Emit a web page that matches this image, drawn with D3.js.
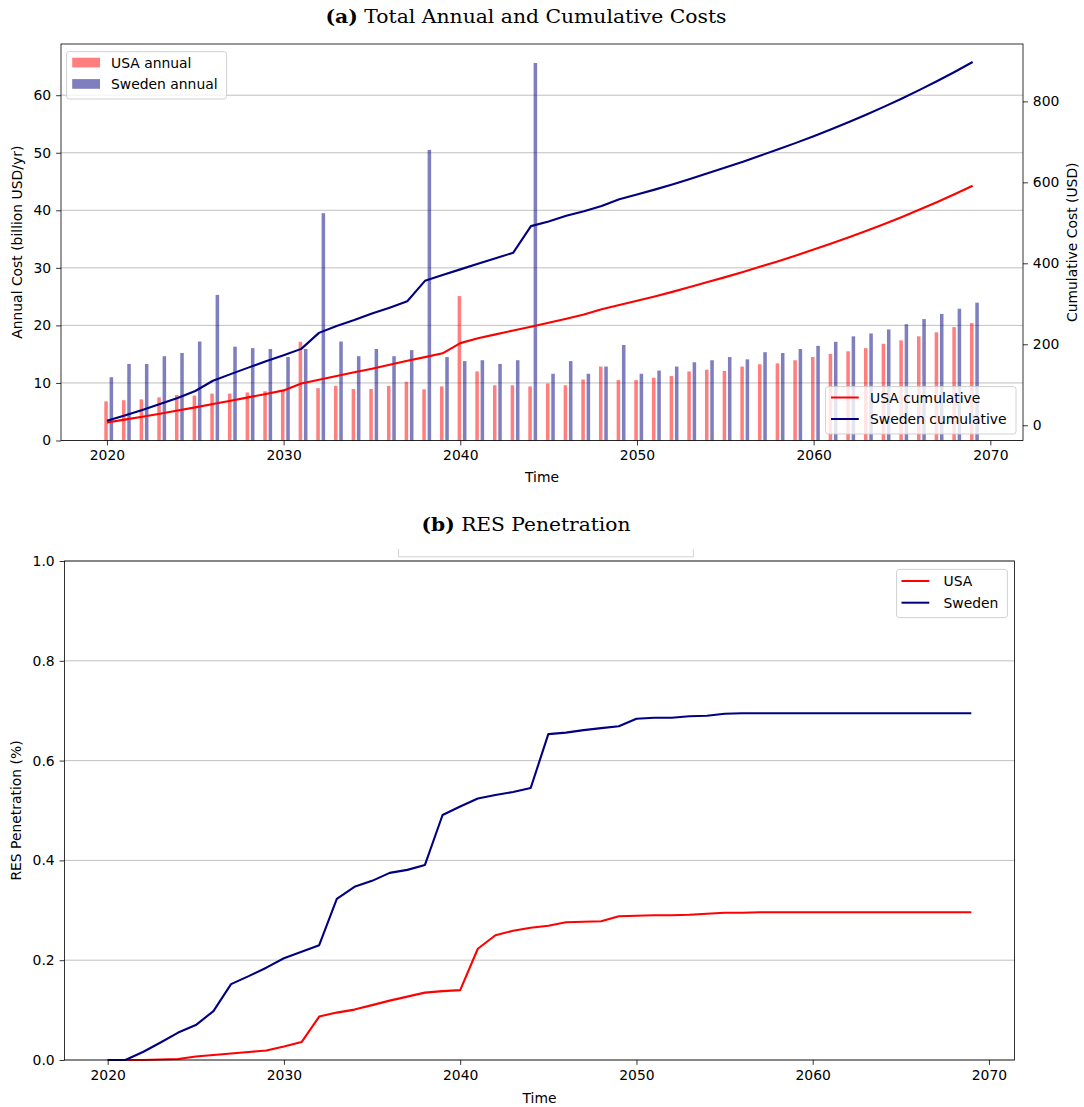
<!DOCTYPE html>
<html><head><meta charset="utf-8">
<script src="https://cdn.jsdelivr.net/npm/d3@7"></script>
<style>
body{margin:0;background:#fff}
svg{display:block}
text{font-family:"DejaVu Sans",sans-serif;fill:#000}
</style>
</head><body>
<svg id="chart" width="1084" height="1107"></svg>
<script>
// ---------------- DATA ----------------
const years = [2020,2021,2022,2023,2024,2025,2026,2027,2028,2029,
               2030,2031,2032,2033,2034,2035,2036,2037,2038,2039,
               2040,2041,2042,2043,2044,2045,2046,2047,2048,2049,
               2050,2051,2052,2053,2054,2055,2056,2057,2058,2059,
               2060,2061,2062,2063,2064,2065,2066,2067,2068,2069];

const usaAnnual = [6.8,7.0,7.15,7.5,7.9,7.8,8.15,8.15,8.35,8.55,
                   8.7,17.15,9.1,9.5,8.95,8.95,9.5,10.2,8.9,9.4,
                   25.1,12.0,9.6,9.6,9.4,9.9,9.6,10.6,12.85,10.5,
                   10.5,10.9,11.2,12.0,12.3,12.1,12.85,13.25,13.4,13.95,
                   14.5,15.05,15.5,16.05,16.8,17.4,18.1,18.8,19.7,20.4];

const swedenAnnual = [11.0,13.3,13.3,14.65,15.2,17.2,25.3,16.3,16.05,15.9,
                      14.5,15.9,39.5,17.2,14.65,15.9,14.65,15.7,50.5,14.5,
                      13.8,13.95,13.3,13.95,65.6,11.6,13.8,11.6,12.85,16.6,
                      11.6,12.15,12.85,13.6,13.95,14.5,14.1,15.35,15.2,15.9,
                      16.45,17.15,18.1,18.6,19.3,20.2,21.1,22.0,22.9,23.95];

const usaCumulative = [6.8,13.8,20.95,28.45,36.35,44.15,52.3,60.45,68.8,77.35,
                       86.05,103.2,112.3,121.8,130.75,139.7,149.2,159.4,168.3,177.7,
                       202.8,214.8,224.4,234.0,243.4,253.3,262.9,273.5,286.35,296.85,
                       307.35,318.25,329.45,341.45,353.75,365.85,378.7,391.95,405.35,419.3,
                       433.8,448.85,464.35,480.4,497.2,514.6,532.7,551.5,571.2,591.6];

const swedenCumulative = [11.0,24.3,37.6,52.25,67.45,84.65,109.95,126.25,142.3,158.2,
                          172.7,188.6,228.1,245.3,259.95,275.85,290.5,306.2,356.7,371.2,
                          385.0,398.95,412.25,426.2,491.8,503.4,517.2,528.8,541.65,558.25,
                          569.85,582.0,594.85,608.45,622.4,636.9,651.0,666.35,681.55,697.45,
                          713.9,731.05,749.15,767.75,787.05,807.25,828.35,850.35,873.25,897.2];

const usaRES = [0.0,0.0,0.0,0.001,0.002,0.007,0.010,0.013,0.016,0.019,
                0.027,0.036,0.087,0.095,0.101,0.110,0.119,0.127,0.135,0.138,
                0.140,0.223,0.250,0.259,0.265,0.269,0.276,0.277,0.278,0.288,
                0.289,0.290,0.290,0.291,0.293,0.295,0.295,0.296,0.296,0.296,
                0.296,0.296,0.296,0.296,0.296,0.296,0.296,0.296,0.296,0.296];

const swedenRES = [0.0,0.0,0.016,0.035,0.055,0.070,0.098,0.152,0.168,0.185,
                   0.204,0.217,0.230,0.323,0.347,0.359,0.375,0.381,0.391,0.491,
                   0.508,0.524,0.531,0.537,0.545,0.653,0.656,0.661,0.665,0.669,
                   0.684,0.686,0.686,0.689,0.690,0.694,0.695,0.695,0.695,0.695,
                   0.695,0.695,0.695,0.695,0.695,0.695,0.695,0.695,0.695,0.695];

const xTicks = [2020,2030,2040,2050,2060,2070];
const leftTicks = [0,10,20,30,40,50,60];
const rightTicks = [0,200,400,600,800];
const resTicks = [0.0,0.2,0.4,0.6,0.8,1.0];

// ---------------- DRAW ----------------
const svg = d3.select("#chart");
const FS = 13.9;
const TICK = 4.9, PAD = 4.9;
const gridColor = "#b0b0b0";
const usaColor = "#ff0000", sweColor = "#000080";

function styleAxis(g){
  g.selectAll("path.domain").remove();
  g.selectAll(".tick line").attr("stroke","#000").attr("stroke-width",0.8);
  g.selectAll(".tick text").attr("font-size",FS).attr("font-family","DejaVu Sans").attr("fill","#000");
}

// ===== Panel (a) =====
const A = {l:61, r:1023, t:44, b:440.5};
const xA = d3.scaleLinear().domain([2017.4, 2071.85]).range([A.l, A.r]);
const yL = d3.scaleLinear().domain([0, 68.9]).range([A.b, A.t]);
const yR = d3.scaleLinear().domain([-37.7, 941.7]).range([A.b, A.t]);

const gA = svg.append("g");
gA.append("g").selectAll("line").data(leftTicks).join("line")
  .attr("x1",A.l).attr("x2",A.r).attr("y1",d=>yL(d)).attr("y2",d=>yL(d))
  .attr("stroke",gridColor).attr("stroke-width",0.8);

const bw = 0.2;
gA.append("g").selectAll("rect").data(years).join("rect")
  .attr("x",(d)=>xA(d-0.05-bw/2)).attr("width",xA(bw)-xA(0))
  .attr("y",(d,i)=>yL(usaAnnual[i])).attr("height",(d,i)=>yL(0)-yL(usaAnnual[i]))
  .attr("fill",usaColor).attr("fill-opacity",0.5);
gA.append("g").selectAll("rect").data(years).join("rect")
  .attr("x",(d)=>xA(d+0.25-bw/2)).attr("width",xA(bw)-xA(0))
  .attr("y",(d,i)=>yL(swedenAnnual[i])).attr("height",(d,i)=>yL(0)-yL(swedenAnnual[i]))
  .attr("fill",sweColor).attr("fill-opacity",0.5);

function legend(g, box, rows, kind){
  g.append("rect").attr("x",box.x).attr("y",box.y).attr("width",box.w).attr("height",box.h)
    .attr("rx",2.5).attr("fill","#fff").attr("fill-opacity",0.8)
    .attr("stroke","#cccccc").attr("stroke-width",0.9);
  rows.forEach(r=>{
    if(kind==="patch"){
      g.append("rect").attr("x",r.sx).attr("y",r.cy-4.9).attr("width",27.8).attr("height",9.7)
        .attr("fill",r.color).attr("fill-opacity",0.5);
    } else {
      g.append("line").attr("x1",r.sx).attr("x2",r.sx+27.8).attr("y1",r.cy).attr("y2",r.cy)
        .attr("stroke",r.color).attr("stroke-width",2);
    }
    g.append("text").attr("x",r.tx).attr("y",r.cy).attr("dy","0.36em")
      .attr("font-size",FS).text(r.label);
  });
}
legend(gA.append("g"), {x:66.6,y:51.6,w:160,h:47.4}, [
  {sx:72.2, cy:62.6, tx:111, color:usaColor, label:"USA annual"},
  {sx:72.2, cy:84, tx:111, color:sweColor, label:"Sweden annual"}
], "patch");

const lineA = (arr)=>d3.line().x((d,i)=>xA(years[i])).y(d=>yR(d))(arr);
gA.append("path").attr("d",lineA(usaCumulative)).attr("fill","none").attr("stroke",usaColor).attr("stroke-width",2.1).attr("stroke-linejoin","round");
gA.append("path").attr("d",lineA(swedenCumulative)).attr("fill","none").attr("stroke",sweColor).attr("stroke-width",2.1).attr("stroke-linejoin","round");

legend(gA.append("g"), {x:825.6,y:386.6,w:190.4,h:47.4}, [
  {sx:831, cy:397.5, tx:870, color:usaColor, label:"USA cumulative"},
  {sx:831, cy:419, tx:870, color:sweColor, label:"Sweden cumulative"}
], "line");

gA.append("rect").attr("x",A.l).attr("y",A.t).attr("width",A.r-A.l).attr("height",A.b-A.t)
  .attr("fill","none").attr("stroke","#000").attr("stroke-width",0.8);

gA.append("g").attr("transform",`translate(0,${A.b})`)
  .call(d3.axisBottom(xA).tickValues(xTicks).tickFormat(d3.format("d")).tickSize(TICK).tickPadding(PAD)).call(styleAxis);
gA.append("g").attr("transform",`translate(${A.l},0)`)
  .call(d3.axisLeft(yL).tickValues(leftTicks).tickFormat(d3.format("d")).tickSize(TICK).tickPadding(PAD)).call(styleAxis);
gA.append("g").attr("transform",`translate(${A.r},0)`)
  .call(d3.axisRight(yR).tickValues(rightTicks).tickFormat(d3.format("d")).tickSize(TICK).tickPadding(PAD)).call(styleAxis);

gA.append("text").attr("x",(A.l+A.r)/2).attr("y",482).attr("text-anchor","middle").attr("font-size",FS).text("Time");
gA.append("text").attr("transform",`translate(22,${(A.t+A.b)/2}) rotate(-90)`).attr("text-anchor","middle").attr("font-size",FS).text("Annual Cost (billion USD/yr)");
gA.append("text").attr("transform",`translate(1077,${(A.t+A.b)/2}) rotate(-90)`).attr("text-anchor","middle").attr("font-size",FS).text("Cumulative Cost (USD)");

const tA = svg.append("text").attr("x",526).attr("y",23).attr("text-anchor","middle")
  .style("font-family","'DejaVu Serif',serif").attr("font-size",18)
  .attr("textLength",401).attr("lengthAdjust","spacingAndGlyphs");
tA.append("tspan").attr("font-weight","bold").text("(a)");
tA.append("tspan").text(" Total Annual and Cumulative Costs");

// ===== Panel (b) =====
const B = {l:64.5, r:1014.5, t:561, b:1060};
const xB = d3.scaleLinear().domain([2017.55, 2071.45]).range([B.l, B.r]);
const yB = d3.scaleLinear().domain([0,1]).range([B.b, B.t]);
const gB = svg.append("g");

const tB = svg.append("text").attr("x",526).attr("y",531).attr("text-anchor","middle")
  .style("font-family","'DejaVu Serif',serif").attr("font-size",18)
  .attr("textLength",209).attr("lengthAdjust","spacingAndGlyphs");
tB.append("tspan").attr("font-weight","bold").text("(b)");
tB.append("tspan").text(" RES Penetration");

svg.append("path").attr("d","M398.5,549 V556.8 H693.3 V549").attr("fill","none")
  .attr("stroke","#cccccc").attr("stroke-width",0.9);

gB.append("g").selectAll("line").data(resTicks).join("line")
  .attr("x1",B.l).attr("x2",B.r).attr("y1",d=>yB(d)).attr("y2",d=>yB(d))
  .attr("stroke",gridColor).attr("stroke-width",0.8);

const lineB = (arr)=>d3.line().x((d,i)=>xB(years[i])).y(d=>yB(d))(arr);
gB.append("path").attr("d",lineB(usaRES)).attr("fill","none").attr("stroke",usaColor).attr("stroke-width",2.1).attr("stroke-linejoin","round");
gB.append("path").attr("d",lineB(swedenRES)).attr("fill","none").attr("stroke",sweColor).attr("stroke-width",2.1).attr("stroke-linejoin","round");

gB.append("rect").attr("x",B.l).attr("y",B.t).attr("width",B.r-B.l).attr("height",B.b-B.t)
  .attr("fill","none").attr("stroke","#000").attr("stroke-width",0.8);

gB.append("g").attr("transform",`translate(0,${B.b})`)
  .call(d3.axisBottom(xB).tickValues(xTicks).tickFormat(d3.format("d")).tickSize(TICK).tickPadding(PAD)).call(styleAxis);
gB.append("g").attr("transform",`translate(${B.l},0)`)
  .call(d3.axisLeft(yB).tickValues(resTicks).tickFormat(d3.format(".1f")).tickSize(TICK).tickPadding(PAD)).call(styleAxis);

legend(gB.append("g"), {x:896.6,y:569.4,w:110.8,h:48.2}, [
  {sx:901.5, cy:581, tx:943.5, color:usaColor, label:"USA"},
  {sx:901.5, cy:602.7, tx:943.5, color:sweColor, label:"Sweden"}
], "line");

gB.append("text").attr("x",(B.l+B.r)/2).attr("y",1103).attr("text-anchor","middle").attr("font-size",FS).text("Time");
gB.append("text").attr("transform",`translate(21,${(B.t+B.b)/2}) rotate(-90)`).attr("text-anchor","middle").attr("font-size",FS).text("RES Penetration (%)");
</script>
</body></html>
